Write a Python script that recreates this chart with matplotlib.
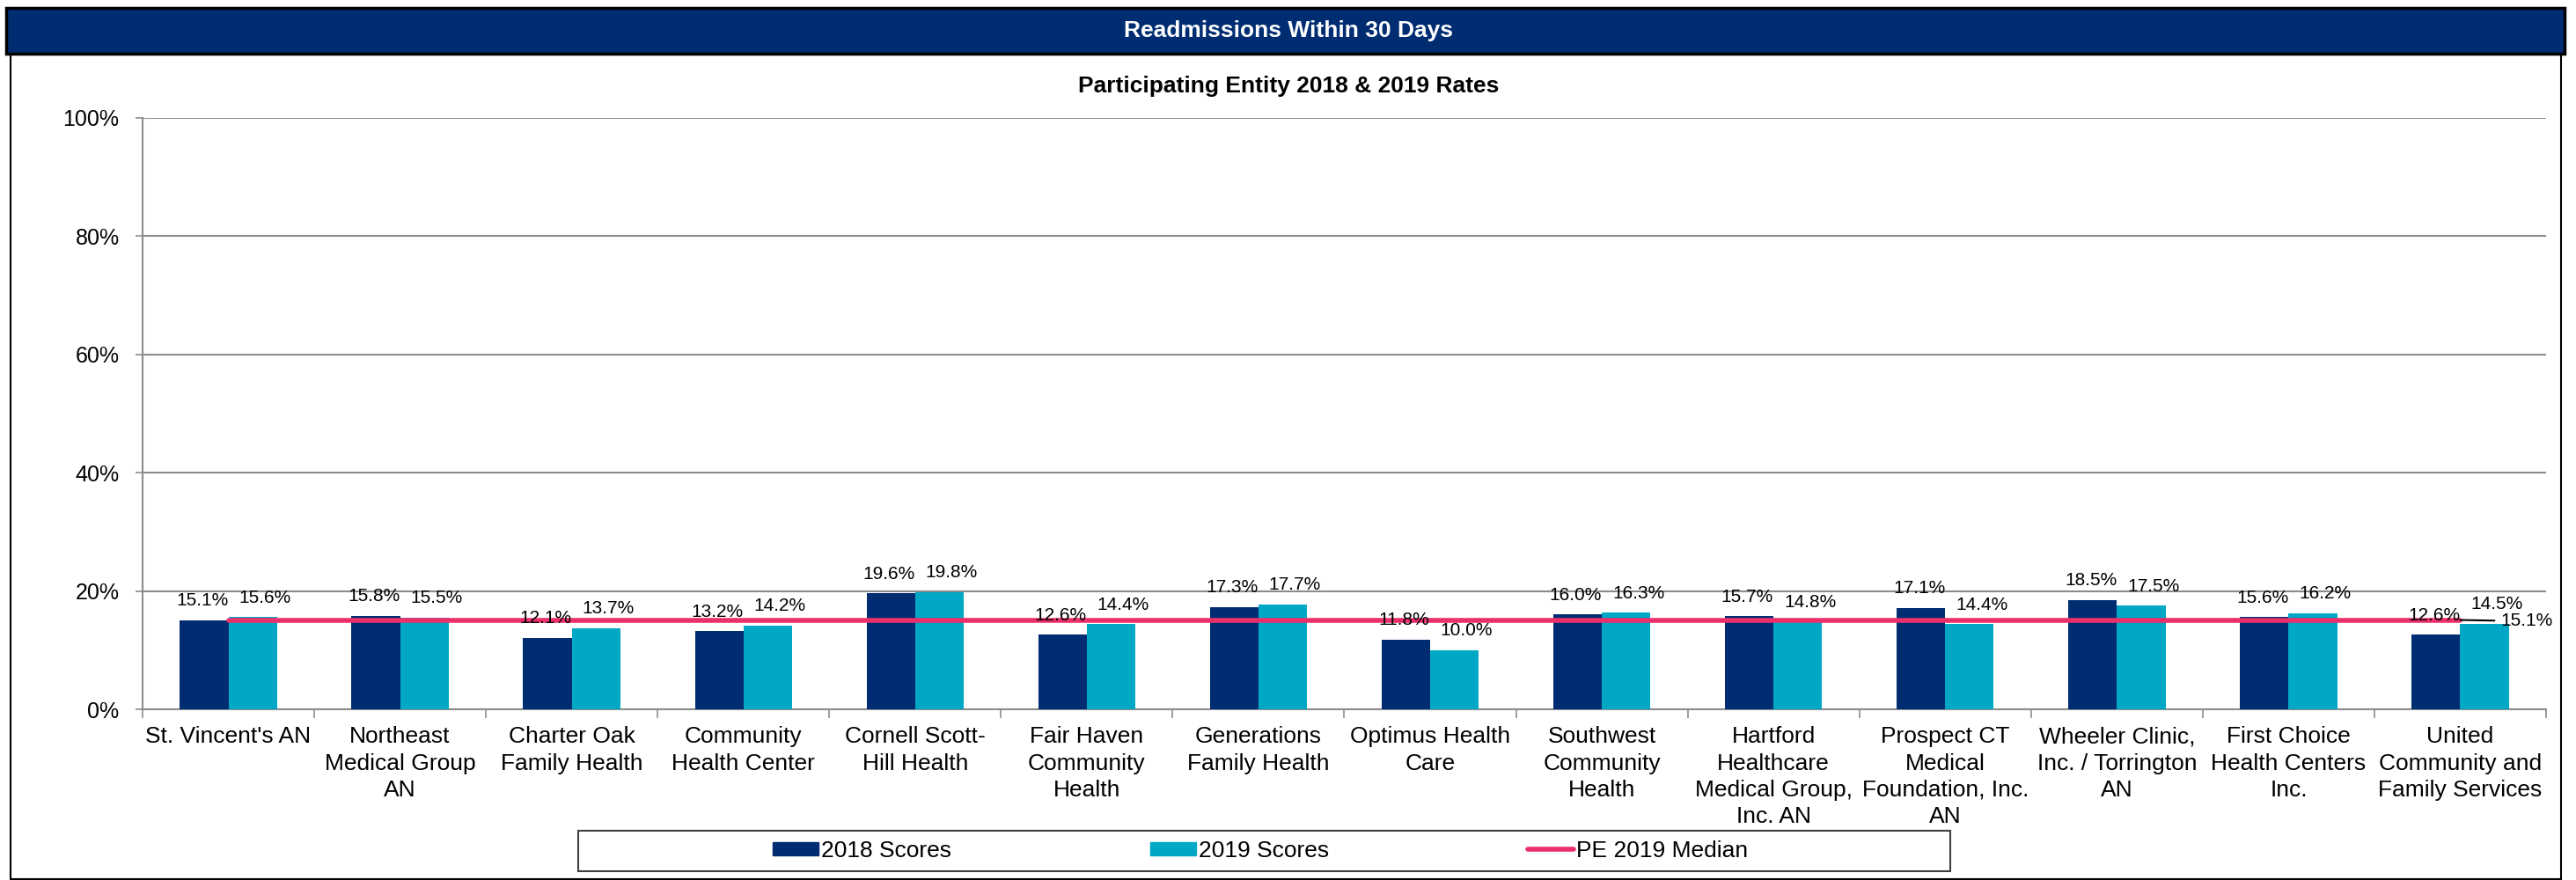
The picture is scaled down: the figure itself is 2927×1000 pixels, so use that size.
import matplotlib
matplotlib.use("Agg")
import matplotlib.pyplot as plt
from matplotlib.patches import Rectangle, Patch
from matplotlib.lines import Line2D
from matplotlib.ticker import FuncFormatter, FixedLocator
import numpy as np

plt.rcParams['font.family'] = ['Liberation Sans', 'DejaVu Sans']

# data
entities = [
    "St. Vincent's AN",
    "Northeast\nMedical Group\nAN",
    "Charter Oak\nFamily Health",
    "Community\nHealth Center",
    "Cornell Scott-\nHill Health",
    "Fair Haven\nCommunity\nHealth",
    "Generations\nFamily Health",
    "Optimus Health\nCare",
    "Southwest\nCommunity\nHealth",
    "Hartford\nHealthcare\nMedical Group,\nInc. AN",
    "Prospect CT\nMedical\nFoundation, Inc.\nAN",
    "Wheeler Clinic,\nInc. / Torrington\nAN",
    "First Choice\nHealth Centers\nInc.",
    "United\nCommunity and\nFamily Services",
]
scores_2018 = [15.1, 15.8, 12.1, 13.2, 19.6, 12.6, 17.3, 11.8, 16.0, 15.7, 17.1, 18.5, 15.6, 12.6]
scores_2019 = [15.6, 15.5, 13.7, 14.2, 19.8, 14.4, 17.7, 10.0, 16.3, 14.8, 14.4, 17.5, 16.2, 14.5]
median_2019 = 15.1
y_ticks = [0, 20, 40, 60, 80, 100]

NAVY = '#002D72'
CYAN = '#00A8C6'
PINK = '#EB2F6B'
GRID = '#8C8C8C'

W, H = 2927, 1000
fig = plt.figure(figsize=(W / 100, H / 100), dpi=100)

# header bar + frame around the chart
fig.patches.append(Rectangle((12 / W, 1 / H), (2910 - 12) / W, (999 - 62) / H,
                             transform=fig.transFigure, facecolor='none',
                             edgecolor='black', lw=1.5, zorder=0))
fig.patches.append(Rectangle((7 / W, 1 - 61 / H), (2914 - 7) / W, 52 / H,
                             transform=fig.transFigure, facecolor=NAVY,
                             edgecolor='black', lw=2.5, zorder=1))
fig.text(1464 / W, 1 - 35 / H, "Readmissions Within 30 Days", color='white',
         fontsize=19, fontweight='bold', ha='center', va='center')
fig.text(1464 / W, 1 - 98 / H, "Participating Entity 2018 & 2019 Rates",
         fontsize=19, fontweight='bold', ha='center', va='center')

ax = fig.add_axes([162 / W, 0.194, (2893 - 162) / W, 0.672])
x = np.arange(len(entities))
bw = 0.283
b1 = ax.bar(x - bw / 2, scores_2018, bw, color=NAVY, zorder=3)
b2 = ax.bar(x + bw / 2, scores_2019, bw, color=CYAN, zorder=3)
ax.plot([x[0], x[-1]], [median_2019, median_2019], color=PINK, lw=4,
        solid_capstyle='round', zorder=4)

# value labels (the 2019 ones sit a little right of their bars, as in Excel)
for bars, vals, dx in ((b1, scores_2018, -1.5), (b2, scores_2019, 10)):
    for rect, v in zip(bars, vals):
        ax.annotate(f"{v:.1f}%", (rect.get_x() + rect.get_width() / 2, v),
                    xytext=(dx, 12), textcoords='offset points',
                    ha='center', va='baseline', fontsize=15, zorder=5)

ax.annotate(f"{median_2019:.1f}%", (x[-1], median_2019), xytext=(33, -1),
            textcoords='offset points', ha='left', va='center', fontsize=15,
            arrowprops=dict(arrowstyle='-', color='black', lw=1.5,
                            shrinkA=3, shrinkB=0), zorder=5)

ax.set_xlim(-0.5, len(entities) - 0.5)
ax.set_ylim(0, 100)
ax.set_yticks(y_ticks)
ax.yaxis.set_major_formatter(FuncFormatter(lambda v, p: f"{v:.0f}%"))
ax.yaxis.grid(True, color=GRID, lw=1.5, zorder=0)
ax.set_axisbelow(True)
ax.tick_params(axis='y', labelsize=18, length=6, width=1.2, color=GRID, pad=13)

ax.set_xticks(x)
ax.set_xticklabels(entities, fontsize=19, linespacing=1.32)
ax.xaxis.set_minor_locator(FixedLocator(np.arange(-0.5, len(entities), 1.0)))
ax.tick_params(axis='x', which='major', length=0, pad=14)
ax.tick_params(axis='x', which='minor', length=7, width=1.2, color=GRID)

for s in ('top', 'right'):
    ax.spines[s].set_visible(False)
for s in ('left', 'bottom'):
    ax.spines[s].set_color(GRID)
    ax.spines[s].set_linewidth(1.5)

# legend box
fig.patches.append(Rectangle((657 / W, 1 - 990 / H), (2216 - 657) / W, 46 / H,
                             transform=fig.transFigure, facecolor='white',
                             edgecolor='#404040', lw=1.5, zorder=1))
handles = [Patch(color=NAVY, label='2018 Scores'),
           Patch(color=CYAN, label='2019 Scores'),
           Line2D([0], [0], color=PINK, lw=4, solid_capstyle='round',
                  label='PE 2019 Median')]
fig.legend(handles=handles, loc='center', bbox_to_anchor=(1432 / W, 1 - 967 / H),
           ncol=3, frameon=False, fontsize=19, handlelength=1.97,
           handleheight=0.53, handletextpad=0.12, columnspacing=8.56)

fig.savefig('out.png', dpi=100)
